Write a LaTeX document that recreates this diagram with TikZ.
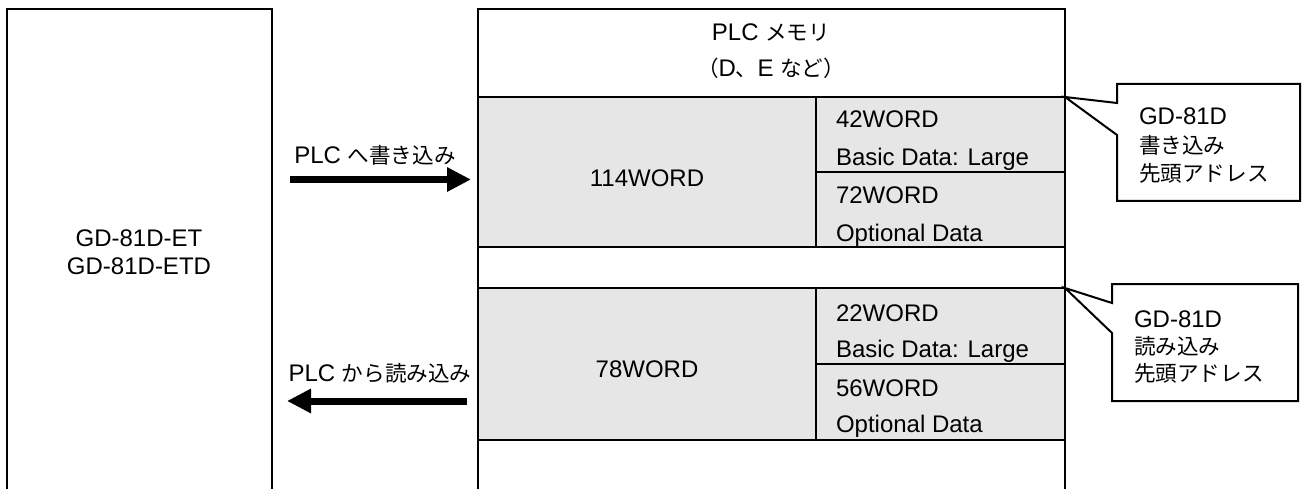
\documentclass[tikz,border=0pt]{standalone}
\usepackage{fontspec}
\setmainfont{Liberation Sans}
\newfontfamily\jp[Scale=0.9]{Noto Sans CJK JP}
\usetikzlibrary{arrows.meta}
\definecolor{cellgray}{RGB}{230,230,230}
\begin{document}
\begin{tikzpicture}[x=1pt,y=-1pt,line width=2pt,
  txt/.style={inner sep=0pt,font=\fontsize{24}{28}\selectfont},
  lt/.style={txt,anchor=base west},
  ct/.style={txt,anchor=base},
  callout/.style={draw,fill=white,line width=2pt,line join=miter},
  bigarrow/.style={line width=7pt,-{Triangle[length=24pt,width=23pt]}}]
\useasboundingbox (0,0) rectangle (1306,489);
% gray memory blocks
\fill[cellgray] (478,97) rectangle (1065,247);
\fill[cellgray] (478,288) rectangle (1065,440);
% device box
\draw (7,495) -- (7,9) -- (272,9) -- (272,495);
% memory box
\draw (478,495) -- (478,9) -- (1065,9) -- (1065,495);
\foreach \yy in {97,247,288,440} \draw (478,\yy) -- (1065,\yy);
\draw (816,97) -- (816,247);
\draw (816,288) -- (816,440);
\draw (816,172) -- (1065,172);
\draw (816,364) -- (1065,364);
% texts
\node[ct] (dev1) at (139,246) {GD-81D-ET};
\node[ct] (dev2) at (139,274) {GD-81D-ETD};
\node[ct] (mem1) at (771,41) {PLC {\jp メモリ}};
\node[ct] (mem2) at (771,77) {{\jp （}D{\jp 、}E {\jp など）}};
\node[ct] (w114) at (647,186) {114WORD};
\node[ct] (w78) at (647,377) {78WORD};
\node[lt] (a1) at (835,128) {42WORD};
\node[lt] (a2) at (835,166) {Basic Data: Large};
\node[lt] (a3) at (835,204) {72WORD};
\node[lt] (a4) at (835,241) {Optional Data};
\node[lt] (b1) at (835,321) {22WORD};
\node[lt] (b2) at (835,357) {Basic Data: Large};
\node[lt] (b3) at (835,396) {56WORD};
\node[lt] (b4) at (835,432) {Optional Data};
\node[ct] (wlab) at (375,164) {PLC {\jp へ書き込み}};
\node[ct] (rlab) at (380,381) {PLC {\jp から読み込み}};
% arrows
\coordinate (ws) at (290,179.5);
\coordinate (we) at (471,179.5);
\coordinate (rs) at (467,401);
\coordinate (re) at (287,401);
\draw[bigarrow] (ws) -- (we);
\draw[bigarrow] (rs) -- (re);
% callouts
\coordinate (tip1) at (1065,97);
\coordinate (tip2) at (1065,288);
\draw[callout] (1117,84) -- (1300,84) -- (1300,201) -- (1117,201) -- (1117,135) -- (tip1) -- (1117,103) -- cycle;
\draw[callout] (1112,284) -- (1298,284) -- (1298,401) -- (1112,401) -- (1112,333) -- (tip2) -- (1112,303) -- cycle;
\node[lt] (c1a) at (1138,125) {GD-81D};
\node[lt] (c1b) at (1138,154) {\jp 書き込み};
\node[lt] (c1c) at (1138,182) {\jp 先頭アドレス};
\node[lt] (c2a) at (1133,327) {GD-81D};
\node[lt] (c2b) at (1133,354) {\jp 読み込み};
\node[lt] (c2c) at (1133,381) {\jp 先頭アドレス};
\end{tikzpicture}
\end{document}
